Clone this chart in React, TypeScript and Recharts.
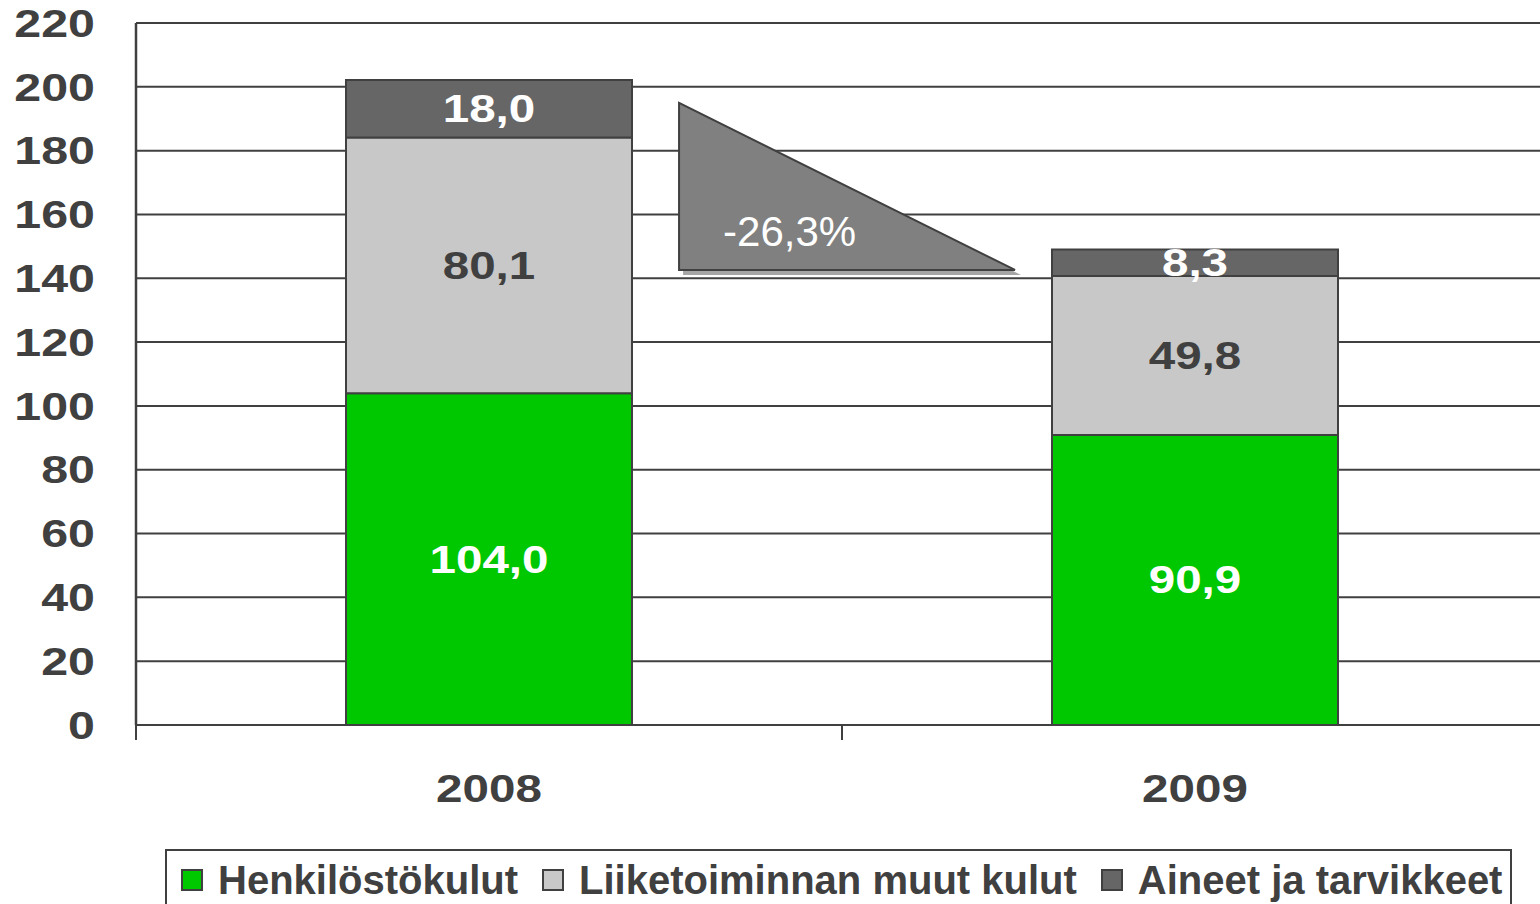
import { BarChart, Bar, XAxis, YAxis, CartesianGrid, LabelList, Legend, ReferenceArea } from 'recharts'

const categories = ['2008', '2009']
const seriesNames = ['Henkilöstökulut', 'Liiketoiminnan muut kulut', 'Aineet ja tarvikkeet']
const henkilosto = [104.0, 90.9]
const muutKulut = [80.1, 49.8]
const aineet = [18.0, 8.3]
const yTicks = [0, 20, 40, 60, 80, 100, 120, 140, 160, 180, 200, 220]

// arrow annotation between the bars (value range it covers)
const dropTop = 195
const dropBottom = 142.6

const data = categories.map((year, i) => ({
  year,
  henkilosto: henkilosto[i],
  muut: muutKulut[i],
  aineet: aineet[i],
}))

const totals = data.map((d) => d.henkilosto + d.muut + d.aineet)
const change = ((totals[1] / totals[0] - 1) * 100).toFixed(1).replace('.', ',')

const FONT = '"Liberation Sans", Arial, sans-serif'
const DARK = '#404040'
const fmt = (v: number) => v.toFixed(1).replace('.', ',')

const YTick = ({ x, y, payload }: any) => (
  <g transform={`translate(${x},${y}) scale(1.24,1)`}>
    <text textAnchor='end' dominantBaseline='central' fill={DARK} fontSize={39} fontWeight='bold' fontFamily={FONT}>
      {payload.value}
    </text>
  </g>
)

const XTick = ({ x, y, payload }: any) => {
  const half = payload.offset ?? 0
  return (
    <g>
      <line x1={x - half} x2={x - half} y1={y} y2={y + 15} stroke={DARK} strokeWidth={2} />
      <g transform={`translate(${x},${y + 64}) scale(1.22,1)`}>
        <text textAnchor='middle' dominantBaseline='central' fill={DARK} fontSize={39} fontWeight='bold' fontFamily={FONT}>
          {payload.value}
        </text>
      </g>
    </g>
  )
}

const makeLabel = (color: string) => (props: any) => {
  const { x, y, width, height, value } = props
  const cx = Number(x) + Number(width) / 2
  const cy = Number(y) + Number(height) / 2
  return (
    <g transform={`translate(${cx},${cy}) scale(1.22,1)`}>
      <text textAnchor='middle' dominantBaseline='central' fill={color} fontSize={39} fontWeight='bold' fontFamily={FONT}>
        {fmt(Number(value))}
      </text>
    </g>
  )
}

const Drop = ({ x, y, width, height }: any) => {
  const left = x + width * 0.3846
  const right = x + width * 0.6225
  const bottom = y + height
  const pts = `${left},${y} ${left},${bottom} ${right},${bottom}`
  const shadow = `${left + 4},${y + 5} ${left + 4},${bottom + 5} ${right + 6},${bottom + 5}`
  return (
    <g>
      <polygon points={shadow} fill='#a6a6a6' />
      <polygon points={pts} fill='#808080' stroke={DARK} strokeWidth={2} />
      <text x={left + 44} y={y + height * 0.77} dominantBaseline='central' fill='#ffffff' fontSize={42} fontFamily={FONT}>
        {change}%
      </text>
    </g>
  )
}

const LegendBox = ({ payload }: any) => {
  const items = [...(payload || [])].sort(
    (a: any, b: any) => seriesNames.indexOf(a.value) - seriesNames.indexOf(b.value)
  )
  return (
    <div
      style={{
        boxSizing: 'border-box',
        height: '100%',
        border: `2px solid ${DARK}`,
        padding: '18px 0 0 14px',
        display: 'flex',
        alignItems: 'flex-start',
        fontFamily: FONT,
        fontWeight: 'bold',
        fontSize: 40,
        color: DARK,
      }}
    >
      {items.map((p: any, i: number) => (
        <div key={i} style={{ display: 'flex', alignItems: 'center', height: 22, marginRight: 24 }}>
          <span style={{ boxSizing: 'border-box', width: 22, height: 22, background: p.color, border: `2px solid ${DARK}`, marginRight: 15 }} />
          <span style={{ lineHeight: '40px', whiteSpace: 'nowrap' }}>{p.value}</span>
        </div>
      ))}
    </div>
  )
}

export default function App() {
  return (
    <div style={{ position: 'absolute', left: 0, top: 0, width: 1540, height: 904, overflow: 'hidden', background: '#fff' }}>
      <BarChart width={1560} height={904} data={data} margin={{ top: 23, right: 12, bottom: 0, left: 0 }}>
        <CartesianGrid vertical={false} stroke={DARK} strokeWidth={2} />
        <XAxis
          dataKey='year'
          height={179}
          tick={<XTick />}
          tickLine={false}
          tickSize={0}
          tickMargin={0}
          axisLine={{ stroke: DARK, strokeWidth: 2 }}
        />
        <YAxis
          width={136}
          domain={[0, 220]}
          ticks={yTicks}
          tick={<YTick />}
          tickLine={false}
          tickSize={0}
          tickMargin={41}
          axisLine={{ stroke: DARK, strokeWidth: 2.5 }}
          interval={0}
        />
        <Bar dataKey='henkilosto' name={seriesNames[0]} stackId='a' fill='#00c800' stroke={DARK} strokeWidth={2} barSize={286} isAnimationActive={false}>
          <LabelList dataKey='henkilosto' content={makeLabel('#ffffff')} />
        </Bar>
        <Bar dataKey='muut' name={seriesNames[1]} stackId='a' fill='#c8c8c8' stroke={DARK} strokeWidth={2} barSize={286} isAnimationActive={false}>
          <LabelList dataKey='muut' content={makeLabel(DARK)} />
        </Bar>
        <Bar dataKey='aineet' name={seriesNames[2]} stackId='a' fill='#666666' stroke={DARK} strokeWidth={2} barSize={286} isAnimationActive={false}>
          <LabelList dataKey='aineet' content={makeLabel('#ffffff')} />
        </Bar>
        <ReferenceArea y1={dropBottom} y2={dropTop} ifOverflow='visible' shape={<Drop />} />
        <Legend
          layout='horizontal'
          verticalAlign='middle'
          align='center'
          content={<LegendBox />}
          wrapperStyle={{ left: 165, top: 849, width: 1347, height: 70 }}
        />
      </BarChart>
    </div>
  )
}
